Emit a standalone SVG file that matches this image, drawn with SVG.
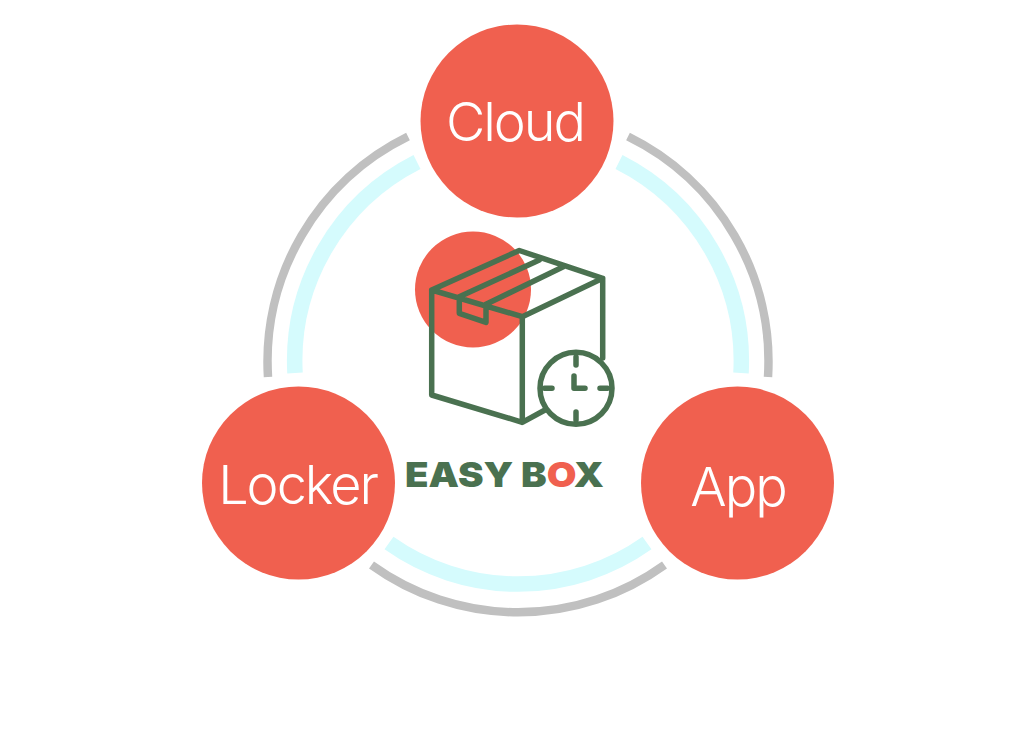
<svg xmlns="http://www.w3.org/2000/svg" width="1031" height="729" viewBox="0 0 1031 729">
<style>
.n{fill:#f0604f}
.g{fill:none;stroke:#c0c0c0;stroke-width:8.500}
.c{fill:none;stroke:#d5fbfd;stroke-width:15.500}
.l{font-family:Inter,"Open Sans",sans-serif;font-weight:350;font-size:54px;fill:#fff;text-anchor:middle;letter-spacing:-2px}
.b{fill:none;stroke:#4a7150;stroke-width:5.500;stroke-linejoin:round;stroke-linecap:round}
.t{font-family:Inter,"Liberation Sans",sans-serif;font-weight:900;font-size:34.500px;fill:#4a7150}
</style>
<rect width="1031" height="729" fill="#fff"/>
<g id="connectors">
<path class="g" d="M408 136.500A250.500 250.500 0 0 0 268 377"/>
<path class="g" d="M628 136.500A250.500 250.500 0 0 1 768 377"/>
<path class="g" d="M371.500 565A250.500 250.500 0 0 0 664.500 565"/>
<path class="c" d="M417 162A223 223 0 0 0 295 373"/>
<path class="c" d="M619 162A223 223 0 0 1 741 373"/>
<path class="c" d="M389 543A223 223 0 0 0 647 543"/>
</g>
<g id="node-cloud"><circle class="n" cx="517" cy="121" r="96.500"/><text class="l" x="515" y="141">Cloud</text></g>
<g id="node-locker"><circle class="n" cx="298.500" cy="483" r="96.500"/><text class="l" x="297.500" y="504">Locker</text></g>
<g id="node-app"><circle class="n" cx="737.500" cy="483" r="96.500"/><text class="l" x="738" y="506">App</text></g>
<g id="node-easybox">
<circle class="n" cx="473" cy="289.500" r="58"/>
<path class="b" d="M431.700 290L519.300 250.500L602.700 278.300L522.300 316.700ZM431.700 290V395L522.300 422.300V316.700M602.700 278.300V358M522.300 422.300L545 410M459.300 296.700L539.300 260M486 304.300L563.300 266.700M459.300 296.700V313.300L486 322.300V304.300"/>
<circle cx="576" cy="388.300" r="36" fill="#fff" stroke="#4a7150" stroke-width="5.500"/>
<path class="b" d="M576 357V365M576 412V420M544.500 388.300H552M600 388.300H607.500M574 376V388.300H585"/>
<text class="t" x="405" y="487" textLength="199" lengthAdjust="spacingAndGlyphs">EASY B<tspan fill="#f0604f">O</tspan>X</text>
</g>
</svg>
